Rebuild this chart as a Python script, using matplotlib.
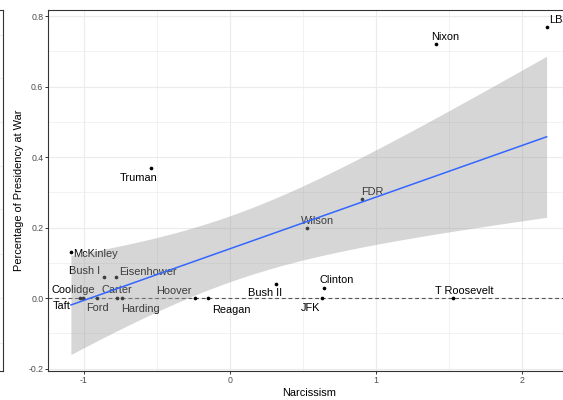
import numpy as np
import matplotlib
matplotlib.use("Agg")
import matplotlib.pyplot as plt
from matplotlib.lines import Line2D

# ---- data ----
presidents = ["LBJ", "Nixon", "Truman", "FDR", "Wilson", "McKinley", "Bush I",
              "Eisenhower", "Coolidge", "Taft", "Ford", "Carter", "Harding",
              "Hoover", "Reagan", "Bush II", "Clinton", "JFK", "T Roosevelt"]
narcissism = [2.170, 1.412, -0.540, 0.903, 0.527, -1.088, -0.862,
              -0.779, -1.026, -1.003, -0.912, -0.771, -0.738,
              -0.236, -0.151, 0.318, 0.647, 0.632, 1.529]
war_pct = [0.77, 0.72, 0.37, 0.28, 0.20, 0.13, 0.06,
           0.06, 0.0, 0.0, 0.0, 0.0, 0.0,
           0.0, 0.0, 0.04, 0.03, 0.0, 0.0]
x_ticks = [-1, 0, 1, 2]
x_tick_labels = ["-1", "0", "1", "2"]
y_ticks = [-0.2, 0.0, 0.2, 0.4, 0.6, 0.8]
y_tick_labels = ["-0.2", "0.0", "0.2", "0.4", "0.6", "0.8"]

# label offsets (pixels, layout only) relative to each point
label_offsets = {
    "LBJ": (12, 7), "Nixon": (9, 7), "Truman": (-12.5, -10), "FDR": (11, 7),
    "Wilson": (11, 7), "McKinley": (25, -1.5), "Bush I": (-19, 6),
    "Eisenhower": (31.5, 4.5), "Coolidge": (-7, 8), "Taft": (-22, -8),
    "Ford": (1, -9.5), "Carter": (-0.5, 8), "Harding": (18, -10.5),
    "Hoover": (-21.5, 7), "Reagan": (23.5, -12), "Bush II": (-11.5, -9.5),
    "Clinton": (12, 7.5), "JFK": (-12, -9.5), "T Roosevelt": (11.5, 7.5),
}

plt.rcParams['font.family'] = ['Liberation Sans', 'DejaVu Sans']

W, H = 563, 400
fig = plt.figure(figsize=(W / 100, H / 100), dpi=100)

# main panel
L, R, B, T = 48.3, 570.4, 370.7, 9.7
ax = fig.add_axes([L / W, 1 - B / H, (R - L) / W, (B - T) / H])
ax.set_xlim(-1.243, 2.333)
ax.set_ylim(-0.206, 0.818)

grid_c = "#EBEBEB"
for v in [-1, 0, 1, 2]:
    ax.axvline(v, color=grid_c, lw=0.8, zorder=0)
for v in [-0.5, 0.5, 1.5]:
    ax.axvline(v, color=grid_c, lw=0.45, zorder=0)
for v in y_ticks:
    ax.axhline(v, color=grid_c, lw=0.8, zorder=0)
for v in [-0.1, 0.1, 0.3, 0.5, 0.7]:
    ax.axhline(v, color=grid_c, lw=0.45, zorder=0)

x = np.array(narcissism)
y = np.array(war_pct)

ax.axhline(0, color="#555555", lw=0.8, ls=(0, (3.5, 2.5)), zorder=1)
ax.scatter(x, y, s=7, color="black", zorder=2, linewidths=0)
for name, xi, yi in zip(presidents, x, y):
    dx, dy = label_offsets[name]
    ax.annotate(name, (xi, yi), xytext=(dx, dy), textcoords="offset pixels",
                ha="center", va="center", fontsize=7.9, color="black",
                zorder=2, annotation_clip=False)

# linear fit with 95% CI
n = len(x)
X = np.vstack([np.ones(n), x]).T
beta, *_ = np.linalg.lstsq(X, y, rcond=None)
resid = y - X @ beta
s2 = resid @ resid / (n - 2)
xtx_inv = np.linalg.inv(X.T @ X)
xs = np.linspace(x.min(), x.max(), 80)
Xs = np.vstack([np.ones_like(xs), xs]).T
fit = Xs @ beta
se = np.sqrt(s2 * np.einsum("ij,jk,ik->i", Xs, xtx_inv, Xs))
tval = 2.1098  # t(0.975, df=17)
ax.fill_between(xs, fit - tval * se, fit + tval * se, color="#999999",
                alpha=0.4, lw=0, zorder=3)
ax.plot(xs, fit, color="#3366FF", lw=1.1, zorder=4)

for sp in ax.spines.values():
    sp.set_color("#333333")
    sp.set_linewidth(0.8)
    sp.set_zorder(5)

ax.set_xticks(x_ticks)
ax.set_xticklabels(x_tick_labels)
ax.set_yticks(y_ticks)
ax.set_yticklabels(y_tick_labels)
ax.tick_params(axis="both", length=2.0, width=0.7, color="#333333",
               labelsize=6.3, labelcolor="#4D4D4D", pad=1.6)

fig.text(309.4 / W, 1 - 392.5 / H, "Narcissism", ha="center", va="center",
         fontsize=7.9, color="black")
fig.text(19 / W, 1 - 190 / H, "Percentage of Presidency at War",
         ha="center", va="center", rotation=90, fontsize=7.9, color="black")

# edge of neighbouring panel at the far left
ax2 = fig.add_axes([-20 / W, 1 - B / H, 23 / W, (B - T) / H])
ax2.set_xlim(0, 1)
ax2.set_ylim(B, T)
for v in [35, 78, 122, 166, 209, 254, 298, 343]:
    ax2.axhline(v, color=grid_c, lw=0.6, zorder=0)
ax2.set_xticks([])
ax2.set_yticks([])
for sp in ax2.spines.values():
    sp.set_color("#333333")
    sp.set_linewidth(0.8)

fig.savefig("out.png", dpi=100)
